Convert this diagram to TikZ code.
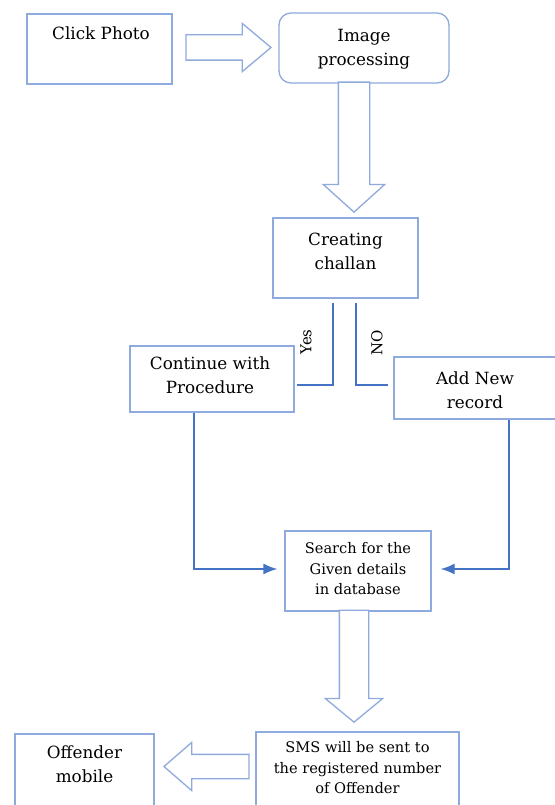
\documentclass[tikz,border=0pt]{standalone}
\usepackage{fontspec}
\setmainfont{DejaVu Serif}
\usetikzlibrary{positioning}
\usetikzlibrary{shapes.arrows}
\usetikzlibrary{arrows.meta}
\definecolor{boxblue}{RGB}{143,170,220}
\definecolor{linkblue}{RGB}{68,114,196}

\begin{document}
\begin{tikzpicture}[x=1pt,y=-1pt,
  box/.style={draw=boxblue,line width=1.3pt,rectangle,inner sep=0pt},
  txt/.style={align=center,inner sep=0pt,font=\fontsize{16.8}{24}\selectfont},
  smalltxt/.style={align=center,inner sep=0pt,font=\fontsize{14.6}{20.5}\selectfont},
  yesno/.style={inner sep=0pt,rotate=90,font=\fontsize{15}{17}\selectfont},
  fatarrow/.style={single arrow,draw=boxblue,fill=white,line width=1.3pt,inner xsep=0pt,single arrow head indent=0pt,anchor=tip},
  link/.style={draw=linkblue,line width=1.6pt},
  linkarrow/.style={link,-{Latex[length=14pt,width=11pt]}}]
 \useasboundingbox (0,0) rectangle (554,805);

 \node[box,minimum width=145pt,minimum height=70pt] (click) at (99.5,49) {};
 \node[box,minimum width=170pt,minimum height=70pt,rounded corners=12pt] (imgproc) at (364,48) {};
 \node[box,minimum width=145pt,minimum height=80pt] (challan) at (345.5,258) {};
 \node[box,minimum width=164pt,minimum height=66pt] (cont) at (212,379) {};
 \node[box,minimum width=170pt,minimum height=62pt] (addnew) at (479,388) {};
 \node[box,minimum width=146pt,minimum height=80pt] (search) at (358,571) {};
 \node[box,minimum width=203pt,minimum height=86pt] (sms) at (357.5,775) {};
 \node[box,minimum width=139pt,minimum height=84pt] (offender) at (84.5,776) {};

 \node[txt,below=13.4pt of click.north,xshift=1.5pt] (clicktxt) {Click Photo};
 \node[txt,below=17pt of imgproc.north] (imgproctxt) {Image\\processing};
 \node[txt,below=15pt of challan.north] (challantxt) {Creating\\challan};
 \node[txt,below=11.4pt of cont.north,xshift=-2pt] (conttxt) {Continue with\\Procedure};
 \node[txt,below=15.4pt of addnew.north,xshift=-4pt] (addnewtxt) {Add New\\record};
 \node[smalltxt,below=12pt of search.north] (searchtxt) {Search for the\\Given details\\in database};
 \node[smalltxt,below=10pt of sms.north] (smstxt) {SMS will be sent to\\the registered number\\of Offender};
 \node[txt,below=12.4pt of offender.north] (offendertxt) {Offender\\mobile};

 \node[fatarrow,minimum height=85pt,inner ysep=12pt,single arrow head extend=11.5pt,single arrow tip angle=80] (arrA) at (272,47.5) {};
 \node[fatarrow,rotate=-90,minimum height=130pt,inner ysep=15pt,single arrow head extend=15pt,single arrow tip angle=96] (arrB) at (354,213) {};
 \node[fatarrow,rotate=-90,minimum height=112pt,inner ysep=14pt,single arrow head extend=14pt,single arrow tip angle=101] (arrC) at (354,723) {};
 \node[fatarrow,rotate=180,minimum height=85pt,inner ysep=11.5pt,single arrow head extend=12pt,single arrow tip angle=82] (arrD) at (163,766.5) {};

 \coordinate (yestop) at (333,303);
 \coordinate (yesend) at (297,385);
 \coordinate (notop) at (356,303);
 \coordinate (noend) at (388,385);
 \draw[link] (yestop) |- (yesend);
 \draw[link] (notop) |- (noend);
 \node[yesno] (yeslbl) at (306,342) {Yes};
 \node[yesno] (nolbl) at (377,343) {NO};

 \draw[linkarrow] ([xshift=-18pt]cont.south) |- ([xshift=-7pt,yshift=2pt]search.west);
 \draw[linkarrow] ([xshift=30pt]addnew.south) |- ([xshift=9pt,yshift=2pt]search.east);
\end{tikzpicture}
\end{document}
